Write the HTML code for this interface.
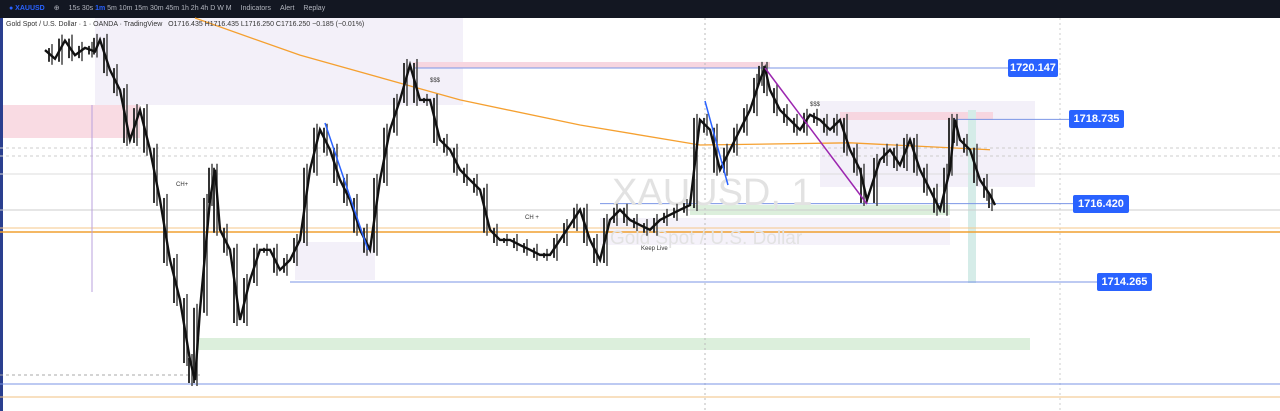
<!DOCTYPE html>
<html><head><meta charset="utf-8">
<style>
body{margin:0;width:1280px;height:411px;overflow:hidden;background:#fff;font-family:"Liberation Sans",sans-serif}
#top{position:absolute;left:0;top:0;width:1280px;height:18px;background:#131722;color:#b2b5be;font-size:7px;line-height:18px}
#top span{margin-left:9px}
#left{position:absolute;left:0;top:18px;width:3px;height:393px;background:#2a3f8f}
.lbl{position:absolute;background:#2962ff;color:#fff;font-size:11px;font-weight:bold;text-align:center;border-radius:2px;line-height:18px;height:18px}
#legend{position:absolute;left:6px;top:21px;font-size:7px;color:#333}
</style></head><body>
<div id="top"><span style="color:#2962ff;font-weight:bold">● XAUUSD</span><span>⊕</span><span>15s 30s <b style="color:#2962ff">1m</b> 5m 10m 15m 30m 45m 1h 2h 4h D W M</span><span>Indicators</span><span>Alert</span><span>Replay</span></div>
<div id="left"></div>
<svg id="chart" width="1280" height="411" style="position:absolute;left:0;top:0"></svg>
<div id="legend">Gold Spot / U.S. Dollar · 1 · OANDA · TradingView &nbsp; O1716.435 H1716.435 L1716.250 C1716.250 −0.185 (−0.01%)</div>
<div class="lbl" style="left:1008px;top:59px;width:50px">1720.147</div>
<div class="lbl" style="left:1069px;top:110px;width:55px">1718.735</div>
<div class="lbl" style="left:1073px;top:195px;width:56px">1716.420</div>
<div class="lbl" style="left:1097px;top:273px;width:55px">1714.265</div>
<script>
const xs=[45,55,65,75,85,95,100,110,120,130,140,150,160,170,180,190,195,200,210,215,220,230,240,250,260,270,280,290,300,310,320,330,340,350,360,370,380,390,400,410,420,430,440,450,460,470,480,490,500,510,520,530,540,550,560,570,580,590,600,610,620,630,640,650,660,670,680,690,700,710,720,730,740,750,760,765,770,780,790,800,810,820,830,840,850,860,867,880,890,900,910,920,930,940,950,955,960,970,980,990,995];
const closes=[1720.64,1720.4,1720.9,1720.5,1720.7,1720.6,1720.92,1720.09,1719.54,1718.17,1718.99,1717.9,1716.52,1714.87,1713.77,1712.12,1711.57,1713.5,1716.52,1717.35,1715.7,1715.15,1713.22,1714.32,1715.15,1715.15,1714.6,1714.87,1715.42,1717.35,1718.45,1717.9,1717.07,1716.52,1715.7,1715.15,1717.07,1718.45,1719.27,1720.23,1719.27,1719.27,1718.17,1717.9,1717.35,1717.07,1716.8,1715.7,1715.42,1715.42,1715.28,1715.15,1715.01,1715.01,1715.42,1715.83,1716.25,1715.42,1714.87,1715.97,1716.25,1715.97,1715.83,1715.7,1715.97,1716.11,1716.25,1716.38,1718.72,1718.45,1717.35,1717.9,1718.45,1718.99,1719.82,1720.15,1719.54,1718.99,1718.72,1718.45,1718.86,1718.72,1718.45,1718.72,1717.9,1717.35,1716.52,1717.62,1717.9,1717.48,1718.17,1717.35,1716.8,1716.25,1717.35,1718.72,1718.17,1717.9,1717.07,1716.66,1716.38];
const maPrices=[1721.52,1720.5,1719.27,1718.58,1718.03,1718.09,1717.9];
const maXs=[195,300,460,580,700,850,990];
function py(p){return 68+(1720.147-p)*36.38;}
const svg=document.getElementById('chart');const NS='http://www.w3.org/2000/svg';
function el(t,a,name){const e=document.createElementNS(NS,t);for(const k in a)e.setAttribute(k,a[k]);


svg.appendChild(e);return e;}
el('rect',{x:95,y:18,width:368,height:87,fill:'#f3f0f9'},'supply-zone-1');
el('rect',{x:3,y:105,width:137,height:33,fill:'#f9dbe3'},'pink-zone-left');
el('rect',{x:295,y:242,width:80,height:38,fill:'#f3f0f9'},'lavender-zone-2');
el('rect',{x:198,y:338,width:832,height:12,fill:'#dcefdc'},'green-demand-zone');
el('rect',{x:413,y:62,width:357,height:6,fill:'#f7d6e0'},'pink-zone-top');
el('rect',{x:820,y:101,width:215,height:86,fill:'#f3f0f9'},'lavender-zone-right');
el('rect',{x:840,y:112,width:153,height:8,fill:'#f7d6e0'},'pink-zone-right');
el('rect',{x:600,y:218,width:350,height:27,fill:'#f5f2fa'},'lavender-zone-mid');
el('rect',{x:690,y:205,width:260,height:10,fill:'#dcefdc'},'green-zone-mid');
el('rect',{x:968,y:110,width:8,height:173,fill:'#d5ece8'},'teal-bar');
el('line',{x1:705,y1:18,x2:705,y2:411,stroke:'#bbb','stroke-dasharray':'2,3'},'session-line');
el('line',{x1:1060,y1:18,x2:1060,y2:411,stroke:'#ccc','stroke-dasharray':'2,3'},'session-line-2');
[[0,148,1280,'#ccc','3,3'],[0,156,1280,'#ccc','3,3'],[0,174,1280,'#ddd',''],[0,210,1280,'#ccc',''],[0,375,200,'#aaa','3,3']].forEach((l,i)=>el('line',{x1:l[0],y1:l[1],x2:l[2],y2:l[1],stroke:l[3],'stroke-dasharray':l[4]},'grid-line-'+i));
el('line',{x1:0,y1:228,x2:1280,y2:228,stroke:'#f5c78a'},'orange-level-1');
el('line',{x1:0,y1:232,x2:1280,y2:232,stroke:'#f0a030','stroke-width':1.5},'orange-level-2');
el('line',{x1:0,y1:397,x2:1280,y2:397,stroke:'#f0c080'},'orange-level-3');
el('line',{x1:0,y1:384,x2:1280,y2:384,stroke:'#7b96e6'},'blue-level-bottom');
el('line',{x1:415,y1:py(1720.147),x2:1008,y2:py(1720.147),stroke:'#7b96e6'},'level-1720');
el('line',{x1:955,y1:py(1718.735),x2:1069,y2:py(1718.735),stroke:'#7b96e6'},'level-1718');
el('line',{x1:600,y1:py(1716.42),x2:1073,y2:py(1716.42),stroke:'#7b96e6'},'level-1716');
el('line',{x1:290,y1:py(1714.265),x2:1097,y2:py(1714.265),stroke:'#7b96e6'},'level-1714');
el('line',{x1:92,y1:105,x2:92,y2:292,stroke:'#b9a0dc'},'measure-line');
const w=el('text',{x:612,y:205,'font-size':38,fill:'#e2e2e2','font-family':'Liberation Sans'},'watermark-symbol');w.textContent='XAUUSD, 1';
const w2=el('text',{x:610,y:244,'font-size':19,fill:'#e2e2e2','font-family':'Liberation Sans'},'watermark-name');w2.textContent='Gold Spot / U.S. Dollar';
let d='';maXs.forEach((x,i)=>{d+=(i?'L':'M')+x+','+py(maPrices[i]);});
el('path',{d:d,fill:'none',stroke:'#f5a030','stroke-width':1.3},'moving-average');
closes.forEach((c,i)=>{if(i==0)return;const y0=py(closes[i-1]),y1=py(c);
el('line',{x1:xs[i]-3,y1:Math.min(y0,y1)-6,x2:xs[i]-3,y2:Math.max(y0,y1)+6,stroke:'#444','stroke-width':1.5},'candle-wick');
el('line',{x1:xs[i]-6,y1:Math.min(y0,y1)-2,x2:xs[i]-6,y2:Math.max(y0,y1)+3,stroke:'#333','stroke-width':2},'candle-body');});
let pd='';xs.forEach((x,i)=>{pd+=(i?'L':'M')+x+','+py(closes[i]);});
el('path',{d:pd,fill:'none',stroke:'#111','stroke-width':2.4},'price-line');
el('line',{x1:765,y1:68,x2:867,y2:204,stroke:'#9c27b0','stroke-width':1.5},'swing-leg-purple');
el('line',{x1:325,y1:123,x2:368,y2:250,stroke:'#2962ff','stroke-width':1.5},'swing-leg-blue');
el('line',{x1:705,y1:101,x2:728,y2:185,stroke:'#2962ff','stroke-width':1.5},'swing-leg-blue-2');
[['CH+',176,186],['CH +',525,219],['$$$',430,82],['$$$',810,106],['Keep Live',641,250]].forEach((t,i)=>{const e=el('text',{x:t[1],y:t[2],'font-size':6,fill:'#333'},'annotation-'+i);e.textContent=t[0];});
</script>
</body></html>
